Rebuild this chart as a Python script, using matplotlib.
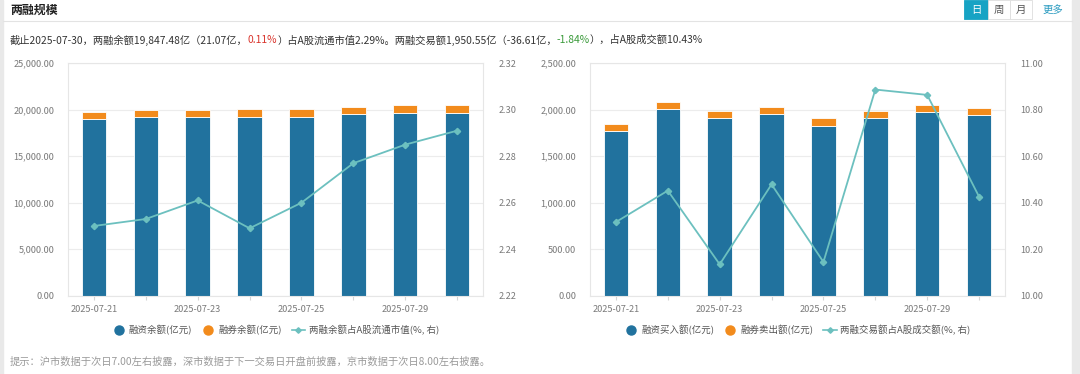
import numpy as np
import matplotlib.pyplot as plt
from matplotlib.patches import Rectangle
from matplotlib.lines import Line2D

plt.rcParams['font.family'] = ['Noto Sans CJK SC', 'DejaVu Sans']

# data
dates = ['2025-07-21', '2025-07-22', '2025-07-23', '2025-07-24',
         '2025-07-25', '2025-07-28', '2025-07-29', '2025-07-30']
rz_balance = [19010, 19189, 19189, 19261, 19261, 19512, 19691, 19691]
rq_balance = [789, 789, 789, 789, 789, 789, 789, 789]
balance_pct = [2.250, 2.253, 2.261, 2.249, 2.260, 2.277, 2.285, 2.291]

rz_buy = [1775, 2005, 1908, 1951, 1826, 1908, 1976, 1940]
rq_sell = [76, 79, 79, 79, 82, 79, 79, 79]
turnover_pct = [10.317, 10.452, 10.135, 10.479, 10.145, 10.887, 10.864, 10.426]

C_BLUE = '#21729e'
C_ORANGE = '#f28b1c'
C_LINE = '#6cc0bf'
C_TICK = '#7a7a7a'
C_GRID = '#ececec'

fig = plt.figure(figsize=(10.8, 3.74), dpi=100)
W, H = 1080, 374


def px(x, y):
    return x / W, 1 - y / H


# page frame
fig.patches.append(Rectangle((0, 0), 3 / W, 1, transform=fig.transFigure,
                             color='#e9e9e9', zorder=0))
fig.patches.append(Rectangle((1072 / W, 0), 8 / W, 1, transform=fig.transFigure,
                             color='#e9e9e9', zorder=0))
fig.add_artist(Line2D([3 / W, 1072 / W], [1 - 21 / H] * 2, color='#e3e3e3', lw=0.8))

fig.text(*px(10, 10), '两融规模', fontsize=8.6, fontweight='bold', color='#222222', va='center')

# period buttons
btns = [('日', 964, 988), ('周', 988, 1010), ('月', 1010, 1032)]
for lab, x0, x1 in btns:
    active = lab == '日'
    fig.patches.append(Rectangle((x0 / W, 1 - 19 / H), (x1 - x0) / W, 19 / H,
                                 transform=fig.transFigure,
                                 facecolor='#17a3c4' if active else 'white',
                                 edgecolor='#17a3c4' if active else '#dddddd', lw=0.6))
    fig.text(*px((x0 + x1) / 2, 9.5), lab, fontsize=7.5, ha='center', va='center',
             color='white' if active else '#555555')
fig.text(*px(1053, 9.5), '更多', fontsize=7.5, ha='center', va='center', color='#2a9bc0')


def setup(ax, ax2, ylim, yticks, ylim2, yticks2):
    x = np.arange(len(dates))
    ax.set_xlim(-0.5, len(dates) - 0.5)
    ax.set_ylim(*ylim)
    ax.set_yticks(yticks)
    ax.set_yticklabels(['{:,.2f}'.format(v) for v in yticks])
    ax.set_xticks(x)
    ax.set_xticklabels([d if i % 2 == 0 else '' for i, d in enumerate(dates)])
    ax.grid(axis='y', color=C_GRID, lw=0.8)
    ax.set_axisbelow(True)
    for sp in ax.spines.values():
        sp.set_color('#e6e6e6')
        sp.set_linewidth(0.8)
    ax.tick_params(axis='y', length=0, pad=10, labelsize=6.6, labelcolor=C_TICK)
    ax.tick_params(axis='x', length=3, color='#d5d5d5', pad=4, labelsize=6.6, labelcolor=C_TICK)
    ax2.set_ylim(*ylim2)
    ax2.set_yticks(yticks2)
    ax2.set_yticklabels(['{:.2f}'.format(v) for v in yticks2])
    ax2.tick_params(axis='y', length=0, pad=11, labelsize=6.6, labelcolor=C_TICK)
    for sp in ax2.spines.values():
        sp.set_visible(False)


panels = [
    dict(pos=(68, 483), bars=(rz_balance, rq_balance), line=balance_pct,
         ylim=(0, 25000), yticks=np.arange(0, 25001, 5000),
         ylim2=(2.22, 2.32), yticks2=np.arange(2.22, 2.3201, 0.02),
         labels=('融资余额(亿元)', '融券余额(亿元)', '两融余额占A股流通市值(%, 右)')),
    dict(pos=(590, 1005), bars=(rz_buy, rq_sell), line=turnover_pct,
         ylim=(0, 2500), yticks=np.arange(0, 2501, 500),
         ylim2=(10.0, 11.0), yticks2=np.arange(10.0, 11.001, 0.2),
         labels=('融资买入额(亿元)', '融券卖出额(亿元)', '两融交易额占A股成交额(%, 右)')),
]

axes = []
for p in panels:
    l, r = p['pos']
    ax = fig.add_axes([l / W, 1 - 295.7 / H, (r - l) / W, 232.4 / H])
    ax2 = ax.twinx()
    setup(ax, ax2, p['ylim'], p['yticks'], p['ylim2'], p['yticks2'])
    x = np.arange(len(dates))
    b1, b2 = p['bars']
    ax.bar(x, b1, width=0.47, color=C_BLUE, edgecolor='white', lw=0.6, zorder=2)
    ax.bar(x, b2, bottom=b1, width=0.47, color=C_ORANGE, edgecolor='white', lw=0.6, zorder=2)
    ax2.plot(x, p['line'], color=C_LINE, lw=1.3, marker='D', ms=3.2, zorder=3)
    handles = [Line2D([], [], ls='', marker='o', ms=6.5, color=C_BLUE),
               Line2D([], [], ls='', marker='o', ms=6.5, color=C_ORANGE),
               Line2D([], [], color=C_LINE, lw=1.2, marker='D', ms=2.8)]
    ax.legend(handles, p['labels'], loc='center', bbox_to_anchor=(0.5, -0.148),
              ncol=3, frameon=False, fontsize=6.8, labelcolor='#555555',
              handlelength=1.4, handletextpad=0.4, columnspacing=1.0)
    axes.append(ax)

# summary line with coloured numbers, pieces chained left to right
parts = [('截止2025-07-30，两融余额19,847.48亿（21.07亿，', '#333333'),
         ('0.11%', '#d9332b'),
         ('）占A股流通市值2.29%。两融交易额1,950.55亿（-36.61亿，', '#333333'),
         ('-1.84%', '#3a9a3a'),
         ('），占A股成交额10.43%', '#333333')]
prev = fig.text(*px(10, 40), parts[0][0], fontsize=7.4, color=parts[0][1], va='center')
for s, c in parts[1:]:
    prev = axes[0].annotate(s, xy=(1, 0.5), xycoords=prev, va='center', ha='left',
                            fontsize=7.4, color=c, annotation_clip=False)

fig.text(*px(10, 362), '提示：沪市数据于次日7.00左右披露，深市数据于下一交易日开盘前披露，京市数据于次日8.00左右披露。',
         fontsize=7.4, color='#9a9a9a', va='center')

fig.savefig('out.png', dpi=100)
